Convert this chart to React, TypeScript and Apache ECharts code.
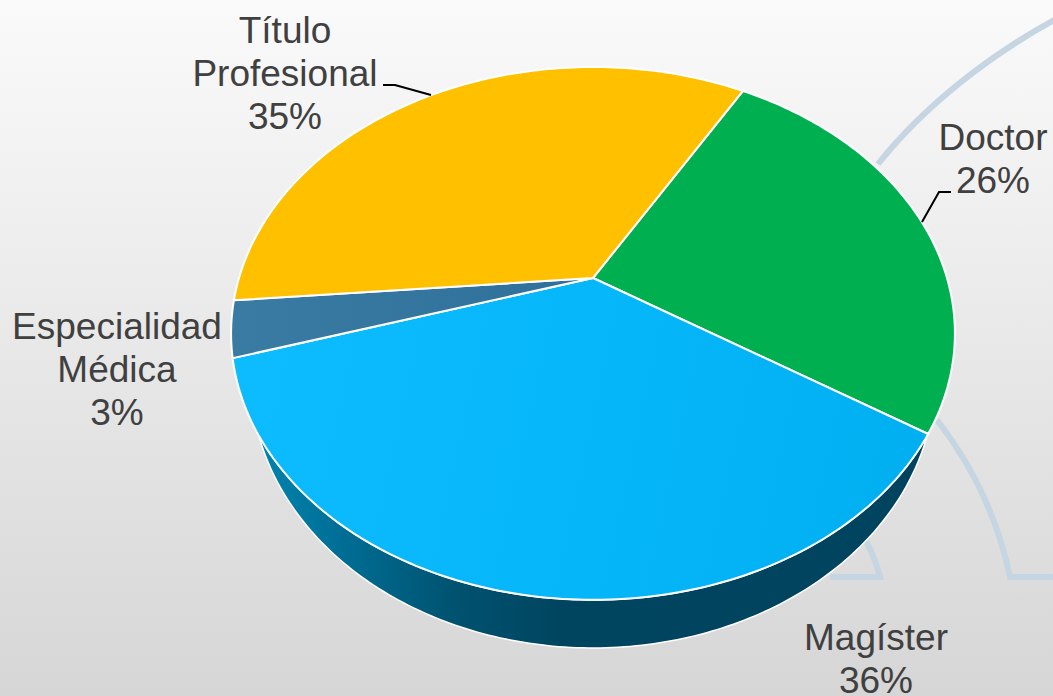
import React, { useEffect, useRef } from "react";
import * as echarts from "echarts";

const categories = ["Doctor", "Magíster", "Especialidad\nMédica", "Título\nProfesional"];
const shares = [25.8, 36.1, 3.4, 34.7];

// Layout and style only (not data)
const W = 1053, H = 696;
const FONT = '37px "Liberation Sans", Arial, sans-serif';
const LINE_H = 43;
const START_DEG = 30;
const APEX = { x: 593, y: 278 };
const SX = 354, SY = 254.9, PERSP = 0.208;
const TOP = { cx: 593, cy: 333, rx: 362, ry: 267 };
const LOW = { cx: 593, cy: 378, rx: 342, ry: 270 };
const labelCenters = [
  { x: 993, y: 158.5 },
  { x: 876, y: 658.5 },
  { x: 117, y: 369.5 },
  { x: 285, y: 73.5 },
];
const grad = (x0: number, y0: number, x1: number, y1: number, stops: [number, string][]) =>
  new echarts.graphic.LinearGradient(x0, y0, x1, y1, stops.map(([offset, color]) => ({ offset, color })), true);
const sliceFills = [
  "#00B050",
  grad(230, 400, 960, 560, [[0, "#0DBCFF"], [0.5, "#05B6F8"], [1, "#00AEEF"]]),
  grad(230, 300, 600, 300, [[0, "#397BA3"], [1, "#2E7099"]]),
  "#FFC000",
];
const wallFill = grad(255, 0, 930, 0, [
  [0, "#0085B0"],
  [0.15, "#006A90"],
  [0.3, "#00526F"],
  [0.45, "#004560"],
  [1, "#00435E"],
]);

echarts.graphic.registerShape(
  "guideArcs",
  echarts.graphic.extendPath(
    "M878 164 C925 105 990 55 1056 19 M937 420 C972 465 997 515 1010 577 L1056 577 M866 541 Q875 558 880 577 L830 577",
    {}
  ) as any
);

function rim(deg: number): number[] {
  const a = (deg * Math.PI) / 180;
  const u = Math.sin(a), v = -Math.cos(a);
  const d = 1 - PERSP * v;
  return [APEX.x + (SX * u) / d, APEX.y + (SY * v) / d];
}
function ell(e: typeof TOP, deg: number): number[] {
  const a = (deg * Math.PI) / 180;
  return [e.cx + e.rx * Math.cos(a), e.cy + e.ry * Math.sin(a)];
}

export default function App() {
  const ref = useRef<HTMLDivElement>(null);
  useEffect(() => {
    document.body.style.margin = "0";
    document.documentElement.style.overflow = "hidden";
    const chart = echarts.init(ref.current!, null, { renderer: "svg", width: W, height: H });
    const total = shares.reduce((a, b) => a + b, 0);
    chart.setOption({
      animation: false,
      backgroundColor: grad(0, 0, 0, H, [[0, "#FAFAFA"], [1, "#D6D6D6"]]),
      graphic: [
        {
          type: "guideArcs",
          x: 0,
          y: 0,
          z: 0,
          silent: true,
          style: { fill: "none", stroke: "#C6D5E2", lineWidth: 6 },
        },
        {
          type: "polyline",
          z: 5,
          silent: true,
          shape: { points: [[383, 85], [395, 85], [431, 95]] },
          style: { fill: "none", stroke: "#000", lineWidth: 2 },
        },
        {
          type: "polyline",
          z: 5,
          silent: true,
          shape: { points: [[951, 192], [939, 192], [922, 222]] },
          style: { fill: "none", stroke: "#000", lineWidth: 2 },
        },
      ],
      series: [
        {
          type: "custom",
          coordinateSystem: "none",
          z: 2,
          silent: true,
          data: shares.map((v, i) => ({ value: v, name: categories[i] })),
          renderItem: (params: any, api: any) => {
            const i = params.dataIndex;
            const before = shares.slice(0, i).reduce((a, b) => a + b, 0);
            const a0 = START_DEG + (before / total) * 360;
            const a1 = a0 + (api.value(0) / total) * 360;
            const pts: number[][] = [[APEX.x, APEX.y]];
            for (let d = a0; d < a1; d += 1) pts.push(rim(d));
            pts.push(rim(a1));
            const children: any[] = [];
            if (i === 1) {
              const wall: number[][] = [];
              for (let t = 11.75; t <= 168.25; t += 1) wall.push(ell(LOW, t));
              for (let t = 158; t >= 22; t -= 1) wall.push(ell(TOP, t));
              children.push({
                type: "polygon",
                shape: { points: wall },
                style: { fill: wallFill, stroke: "#fff", lineWidth: 1.5 },
              });
            }
            children.push({
              type: "polygon",
              shape: { points: pts },
              style: { fill: sliceFills[i], stroke: "#fff", lineWidth: 2 },
            });
            const pct = Math.round((api.value(0) / total) * 100);
            children.push({
              type: "text",
              z2: 10,
              style: {
                text: `${categories[i]}\n${pct}%`,
                x: labelCenters[i].x,
                y: labelCenters[i].y,
                align: "center",
                verticalAlign: "middle",
                font: FONT,
                lineHeight: LINE_H,
                fill: "#404040",
              },
            });
            return { type: "group", children };
          },
        },
      ],
    });
    return () => chart.dispose();
  }, []);
  return <div ref={ref} style={{ width: W, height: H }} />;
}
